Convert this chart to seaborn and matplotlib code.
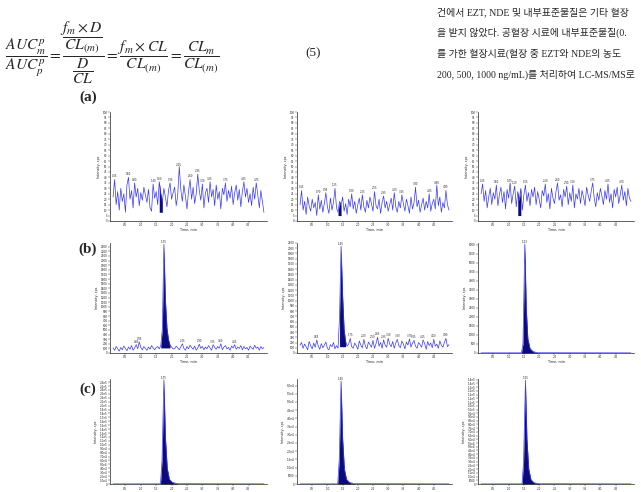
import numpy as np
import pandas as pd
import matplotlib
matplotlib.use("Agg")
import matplotlib.pyplot as plt
import seaborn as sns

sns.set_style("white")
plt.rcParams["font.family"] = ["Liberation Serif", "Noto Sans CJK KR", "DejaVu Sans"]
plt.rcParams["mathtext.fontset"] = "stix"

# ---------------- data ----------------
TIME_START, TIME_STEP = 0.10, 0.05   # acquisition grid, min

a1_cps = [22,38,15,27,10,30,18,25,8,33,40,20,28,12,35,22,30,14,26,19,
          31,24,17,29,12,9,34,21,27,15,36,25,18,30,22,13,28,35,20,26,
          31,14,24,50,29,18,33,23,11,27,38,20,31,16,25,43,28,19,34,12,
          26,30,17,36,22,29,14,33,20,27,11,30,24,35,18,28,21,32,15,26,
          33,19,29,13,27,36,22,30,17,25,14,31,20,35,24,12,28,18,8]
a2_cps = [15,28,10,18,6,22,14,9,20,12,17,5,24,11,19,8,16,26,13,7,
          21,10,17,30,12,8,18,14,22,9,16,6,20,13,25,11,18,7,15,21,
          10,24,13,8,19,12,22,16,9,27,14,11,20,7,17,23,12,18,9,15,
          21,10,26,13,8,18,12,24,16,9,20,14,7,22,11,17,31,13,19,8,
          15,21,10,18,12,25,9,16,20,11,33,14,22,8,17,12,28,15,10]
a3_cps = [25,34,18,28,12,22,30,15,26,20,33,14,24,31,17,27,11,29,21,35,
          16,25,32,13,27,19,30,10,24,33,18,26,14,29,22,31,15,27,20,12,
          28,23,34,17,25,11,30,21,16,27,35,19,24,13,29,22,32,15,26,18,
          33,12,25,20,30,16,28,22,14,31,24,18,27,35,21,13,26,19,30,23,
          15,28,20,34,17,25,12,29,22,31,16,24,33,19,27,14,30,21,18]
b1_cps = [110,60,140,90,40,120,70,150,100,50,
          130,80,160,60,110,180,90,240,120,70,
          140,100,60,130,80,160,110,70,120,140,
          90,160,520,2350,1150,540,290,170,130,90,
          90,150,110,70,130,200,100,60,140,90,
          170,120,80,150,60,110,190,100,140,70,
          130,90,160,110,60,180,120,80,140,100,
          200,70,130,160,90,120,60,150,110,180,
          80,130,100,160,70,140,90,120,60,150,
          110,80,170,100,130,60,140,90,120]
b2_cps = [150,200,90,170,120,60,220,140,80,190,
          110,250,130,70,180,100,150,210,90,60,
          160,120,200,80,140,90,700,2040,1100,450,
          220,130,170,280,120,90,190,140,70,230,
          150,100,260,130,80,210,160,110,240,90,
          180,300,130,200,90,250,150,110,280,170,
          120,220,90,190,260,140,100,230,170,80,
          210,150,270,110,190,240,130,90,200,160,
          110,250,180,70,220,140,190,100,260,130,
          170,90,230,150,110,200,280,120,160]

b3_time = [0.10, 1.42, 1.47, 1.53, 1.58, 1.63, 1.70, 1.80, 1.95, 5.00]
b3_cps  = [8, 10, 500, 6050, 2400, 800, 250, 80, 15, 8]
c1_time = [0.10, 1.64, 1.69, 1.75, 1.80, 1.86, 1.93, 2.03, 2.20, 5.00]
c1_cps  = [300, 400, 60000, 266000, 120000, 40000, 12000, 4000, 800, 300]
c2_time = [0.10, 1.34, 1.39, 1.45, 1.50, 1.56, 1.63, 1.73, 1.90, 5.00]
c2_cps  = [80, 100, 15000, 62800, 28000, 9000, 2800, 900, 200, 80]
c3_time = [0.10, 1.44, 1.49, 1.55, 1.60, 1.66, 1.73, 1.83, 2.00, 5.00]
c3_cps  = [150, 200, 30000, 139500, 60000, 20000, 6000, 1800, 400, 150]

x_ticks = [0.5, 1.0, 1.5, 2.0, 2.5, 3.0, 3.5, 4.0, 4.5]

# per panel: y max, y tick step, integration window, fill base, label threshold
panels = {
    "a1": dict(ymax=100, ystep=5, win=(1.60, 1.70), base=8, thr=33),
    "a2": dict(ymax=100, ystep=5, win=(1.35, 1.45), base=5, thr=22),
    "a3": dict(ymax=100, ystep=5, win=(1.30, 1.40), base=5, thr=31),
    "b1": dict(ymax=2380, ystep=100, win=(1.65, 1.95), base=110, thr=170),
    "b2": dict(ymax=2100, ystep=100, win=(1.37, 1.62), base=120, thr=230),
    "b3": dict(ymax=6100, ystep=500, win=(1.42, 1.95), base=0, thr=None),
    "c1": dict(ymax=268000, ystep=10000, win=(1.64, 2.20), base=0, thr=None),
    "c2": dict(ymax=64000, ystep=5000, win=(1.34, 1.90), base=0, thr=None),
    "c3": dict(ymax=141000, ystep=5000, win=(1.44, 2.00), base=0, thr=None),
}

grid_t = np.round(TIME_START + TIME_STEP * np.arange(len(a1_cps)), 2)
traces = {
    "a1": (grid_t, a1_cps), "a2": (grid_t, a2_cps), "a3": (grid_t, a3_cps),
    "b1": (grid_t, b1_cps), "b2": (grid_t, b2_cps), "b3": (b3_time, b3_cps),
    "c1": (c1_time, c1_cps), "c2": (c2_time, c2_cps), "c3": (c3_time, c3_cps),
}

# ---------------- figure ----------------
W, H = 641, 492
fig = plt.figure(figsize=(W / 100, H / 100), dpi=100)

cols = [(110, 267), (297, 452), (478, 634)]
rows = {"a": (112, 221), "b": (243, 353), "c": (379, 484)}

LINE = "#3a3aee"
FILL = "#0b0b7c"
TXT = ["DejaVu Sans"]

def fmt(v):
    if v >= 10000:
        return f"{v:.1e}".replace("e+0", "e")
    return f"{v:g}"

for r, (ytop, ybot) in rows.items():
    for ci, (xl, xr) in enumerate(cols):
        key = f"{r}{ci+1}"
        p = panels[key]
        ax = fig.add_axes([xl / W, 1 - ybot / H, (xr - xl) / W, (ybot - ytop) / H])
        t, y = traces[key]
        df = pd.DataFrame({"Time, min": t, "Intensity, cps": y})
        sns.lineplot(data=df, x="Time, min", y="Intensity, cps", ax=ax,
                     color=LINE, linewidth=0.5, estimator=None, sort=False)
        ta, ya = np.asarray(t, float), np.asarray(y, float)
        m = (ta >= p["win"][0] - 1e-9) & (ta <= p["win"][1] + 1e-9)
        ax.fill_between(ta[m], p["base"], ya[m], color=FILL, linewidth=0)
        ax.set_xlim(0, 5.1)
        ax.set_ylim(0, p["ymax"])
        ax.set_xticks(x_ticks)
        ax.set_xticklabels([f"{v:.1f}" for v in x_ticks])
        yt = np.arange(0, p["ymax"] + 1, p["ystep"])
        ax.set_yticks(yt)
        ax.set_yticklabels([fmt(v) for v in yt])
        ax.tick_params(axis="both", labelsize=2.0, length=1.2, width=0.3, pad=0.6,
                       direction="out", left=True, bottom=True, colors="#222222")
        if r != "c":
            ax.set_xlabel("Time, min", fontsize=2.4, labelpad=0.5, family=TXT)
        else:
            ax.set_xlabel("")
        ax.set_ylabel("Intensity, cps", fontsize=2.4, labelpad=1.2, family=TXT)
        for lab in ax.get_xticklabels() + ax.get_yticklabels():
            lab.set_family(TXT)
        sns.despine(ax=ax)
        for s in ("left", "bottom"):
            ax.spines[s].set_linewidth(0.5)
            ax.spines[s].set_color("#222222")
        # peak labels
        i_max = int(np.argmax(ya))
        ax.text(ta[i_max], ya[i_max], f"{ta[i_max]:.2f}", fontsize=2.0,
                ha="center", va="bottom", family=TXT)
        if p["thr"] is not None:
            for i in range(1, len(ya) - 1):
                if i != i_max and ya[i] > p["thr"] and ya[i] >= ya[i-1] and ya[i] >= ya[i+1]:
                    ax.text(ta[i], ya[i] + p["ymax"] * 0.01, f"{ta[i]:.2f}", fontsize=1.8,
                            ha="center", va="bottom", family=TXT)

# panel row labels
for lab, yy in (("(a)", 97), ("(b)", 249), ("(c)", 389)):
    fig.text(88 / W, 1 - yy / H, lab, fontsize=11, fontweight="bold",
             ha="center", va="center", family="Liberation Serif")

# equation
eq = (r"$\dfrac{AUC_m^p}{AUC_p^p}=\dfrac{\dfrac{f_m\times D}{CL_{(m)}}}{\dfrac{D}{CL}}"
      r"=\dfrac{f_m\times CL}{CL_{(m)}}=\dfrac{CL_m}{CL_{(m)}}$")
fig.text(5 / W, 1 - 53 / H, eq, fontsize=11.2, ha="left", va="center")
fig.text(313 / W, 1 - 53 / H, "(5)", fontsize=9.5, ha="center", va="center")

korean = ["건에서 EZT, NDE 및 내부표준물질은 기타 혈장",
          "을 받지 않았다. 공혈장 시료에 내부표준물질(0.",
          "를 가한 혈장시료(혈장 중 EZT와 NDE의 농도",
          "200, 500, 1000 ng/mL)를 처리하여 LC-MS/MS로"]
for i, line in enumerate(korean):
    fig.text(437 / W, 1 - (12 + 21 * i) / H, line, fontsize=7.15, ha="left", va="center")

fig.savefig("out.png", dpi=100)
